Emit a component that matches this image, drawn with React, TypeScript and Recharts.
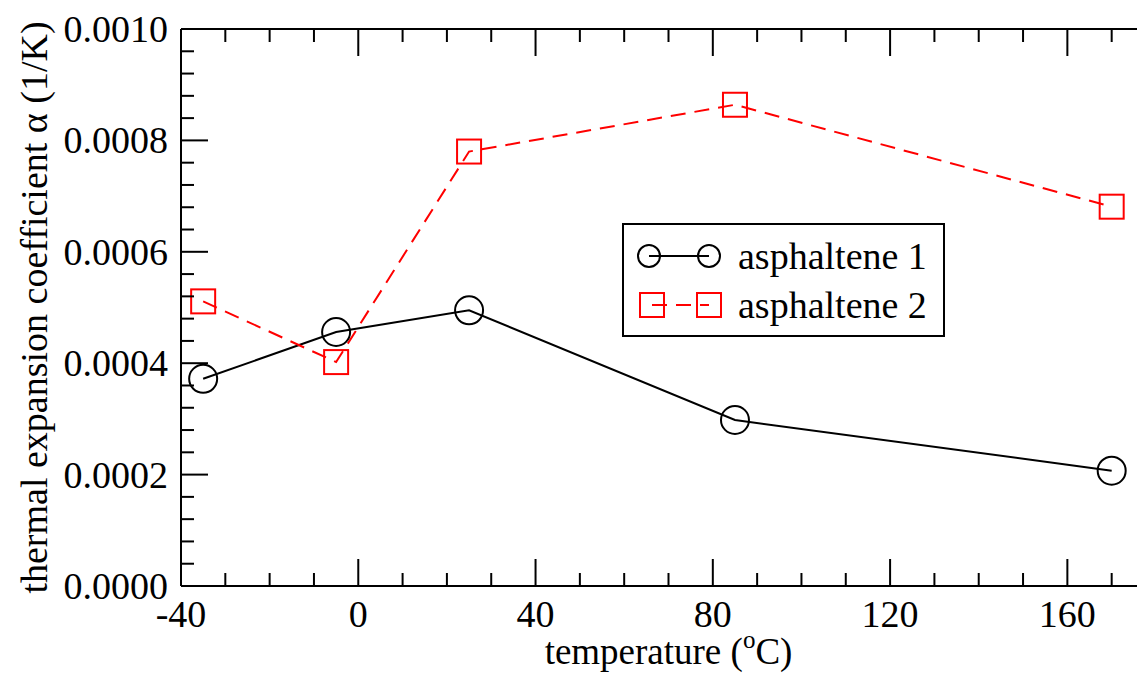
import React from "react";
import { LineChart, Line, XAxis, YAxis, Label } from "recharts";

// temperatures (°C) where alpha was evaluated
const temperatures = [-35, -5, 25, 85, 170];
// thermal expansion coefficient alpha (1/K)
const asphaltene1 = [0.000372, 0.000456, 0.000495, 0.000298, 0.000207];
const asphaltene2 = [0.000511, 0.000402, 0.00078, 0.000864, 0.000681];
const seriesNames = ["asphaltene 1", "asphaltene 2"];

// every 10 °C a tick, every 40 °C a labelled one
const xTicks = Array.from({ length: 22 }, (_, i) => -40 + i * 10);
// every 0.00004 a tick, every 0.0002 a labelled one
const yTicks = Array.from({ length: 26 }, (_, i) => i * 0.00004);

const rows = temperatures.map((t, i) => ({ t, a1: asphaltene1[i], a2: asphaltene2[i] }));

const FONT = "'Liberation Serif', 'Times New Roman', serif";
const MAJOR = 27;
const MINOR = 13;

const isMajorX = (v: number) => ((v + 40) % 40) === 0;
const isMajorY = (v: number) => Math.abs(v / 0.0002 - Math.round(v / 0.0002)) < 1e-6;

const BottomTick = ({ x, y, payload }: any) => {
  const major = isMajorX(payload.value);
  return (
    <g>
      <line x1={x} y1={y} x2={x} y2={y - (major ? MAJOR : MINOR)} stroke="#000" strokeWidth={2} />
      {major && (
        <text x={x} y={y + 41} textAnchor="middle" fontFamily={FONT} fontSize={38} fill="#000">
          {payload.value}
        </text>
      )}
    </g>
  );
};

const TopTick = ({ x, y, payload }: any) => {
  const major = isMajorX(payload.value);
  return <line x1={x} y1={y} x2={x} y2={y + (major ? MAJOR : MINOR)} stroke="#000" strokeWidth={2} />;
};

const LeftTick = ({ x, y, payload }: any) => {
  const major = isMajorY(payload.value);
  return (
    <g>
      <line x1={x} y1={y} x2={x + (major ? MAJOR : MINOR)} y2={y} stroke="#000" strokeWidth={2} />
      {major && (
        <text x={x - 13} y={y + 13} textAnchor="end" fontFamily={FONT} fontSize={38} fill="#000">
          {payload.value.toFixed(4)}
        </text>
      )}
    </g>
  );
};

const RightTick = ({ x, y, payload }: any) => {
  const major = isMajorY(payload.value);
  return <line x1={x} y1={y} x2={x - (major ? MAJOR : MINOR)} y2={y} stroke="#000" strokeWidth={2} />;
};

const CircleDot = ({ cx, cy }: any) => (
  <circle cx={cx} cy={cy} r={14} fill="none" stroke="#000" strokeWidth={2} />
);

const SquareDot = ({ cx, cy }: any) => (
  <rect x={cx - 12} y={cy - 12} width={24} height={24} fill="none" stroke="#ff0000" strokeWidth={2} />
);

const XTitle = ({ viewBox }: any) => {
  const cx = viewBox.x + viewBox.width / 2;
  const y = viewBox.y + 78;
  return (
    <text x={cx} y={y} textAnchor="middle" fontFamily={FONT} fontSize={37} fill="#000">
      temperature (
      <tspan fontSize={25} dy={-16}>o</tspan>
      <tspan dy={16}>C)</tspan>
    </text>
  );
};

const YTitle = ({ viewBox }: any) => {
  const x = 39;
  const cy = viewBox.y + viewBox.height / 2;
  return (
    <text
      x={x}
      y={cy}
      transform={`rotate(-90 ${x} ${cy})`}
      textAnchor="middle"
      fontFamily={FONT}
      fontSize={38}
      fill="#000"
    >
      thermal expansion coefficient α (1/K)
    </text>
  );
};

const LegendBox = () => (
  <svg
    width={323}
    height={114}
    style={{ position: "absolute", left: 614, top: 215 }}
  >
    <rect x={1} y={1} width={321} height={112} fill="#fff" stroke="#000" strokeWidth={2} />
    <line x1={27} y1={33} x2={87} y2={33} stroke="#000" strokeWidth={2} />
    <circle cx={27} cy={33} r={11} fill="none" stroke="#000" strokeWidth={2} />
    <circle cx={87} cy={33} r={11} fill="none" stroke="#000" strokeWidth={2} />
    <text x={116} y={46} fontFamily={FONT} fontSize={38} fill="#000">{seriesNames[0]}</text>
    <line x1={30} y1={82} x2={87} y2={82} stroke="#ff0000" strokeWidth={2} strokeDasharray="15 9" />
    <rect x={18} y={70} width={24} height={24} fill="none" stroke="#ff0000" strokeWidth={2} />
    <rect x={75} y={70} width={24} height={24} fill="none" stroke="#ff0000" strokeWidth={2} />
    <text x={116} y={95} fontFamily={FONT} fontSize={38} fill="#000">{seriesNames[1]}</text>
  </svg>
);

export default function App() {
  return (
    <div style={{ position: "relative", width: 1137, height: 677, overflow: "hidden" }}>
      <LineChart width={1160} height={670} data={rows} margin={{ top: 0, right: 10, bottom: 0, left: 0 }}>
        <XAxis
          xAxisId="bottom"
          dataKey="t"
          type="number"
          domain={[-40, 180]}
          ticks={xTicks}
          interval={0}
          height={92}
          tickSize={0}
          tickMargin={0}
          tickLine={false}
          tick={<BottomTick />}
          axisLine={{ stroke: "#000", strokeWidth: 2 }}
          label={<Label content={<XTitle />} />}
        />
        <XAxis
          xAxisId="top"
          orientation="top"
          dataKey="t"
          type="number"
          domain={[-40, 180]}
          ticks={xTicks}
          interval={0}
          height={21}
          tickSize={0}
          tickMargin={0}
          tickLine={false}
          tick={<TopTick />}
          axisLine={{ stroke: "#000", strokeWidth: 2 }}
        />
        <YAxis
          yAxisId="left"
          type="number"
          domain={[0, 0.001]}
          ticks={yTicks}
          interval={0}
          width={173}
          tickSize={0}
          tickMargin={0}
          tickLine={false}
          tick={<LeftTick />}
          axisLine={{ stroke: "#000", strokeWidth: 2 }}
          label={<Label content={<YTitle />} />}
        />
        <YAxis
          yAxisId="right"
          orientation="right"
          type="number"
          domain={[0, 0.001]}
          ticks={yTicks}
          interval={0}
          width={2}
          tickSize={0}
          tickMargin={0}
          tickLine={false}
          tick={<RightTick />}
          axisLine={{ stroke: "#000", strokeWidth: 2 }}
        />
        <Line
          xAxisId="bottom"
          yAxisId="left"
          type="linear"
          dataKey="a1"
          name={seriesNames[0]}
          stroke="#000"
          strokeWidth={2}
          dot={<CircleDot />}
          isAnimationActive={false}
        />
        <Line
          xAxisId="bottom"
          yAxisId="left"
          type="linear"
          dataKey="a2"
          name={seriesNames[1]}
          stroke="#ff0000"
          strokeWidth={2}
          strokeDasharray="15 9"
          dot={<SquareDot />}
          isAnimationActive={false}
        />
      </LineChart>
      <LegendBox />
    </div>
  );
}
